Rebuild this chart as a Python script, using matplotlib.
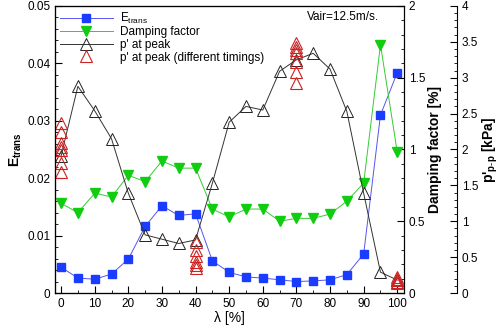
import matplotlib
matplotlib.use("Agg")
import matplotlib.pyplot as plt
from matplotlib.ticker import MultipleLocator, AutoMinorLocator

plt.rcParams['font.family'] = ['Liberation Sans', 'DejaVu Sans']
plt.rcParams['mathtext.fontset'] = 'custom'
plt.rcParams['mathtext.rm'] = 'Liberation Sans'
plt.rcParams['mathtext.it'] = 'Liberation Sans'
plt.rcParams['mathtext.bf'] = 'Liberation Sans:bold'

# lambda [%]
lam = [0, 5, 10, 15, 20, 25, 30, 35, 40, 45, 50, 55, 60, 65, 70, 75, 80, 85, 90, 95, 100]

e_trans = [0.0045, 0.0026, 0.0024, 0.0033, 0.0059, 0.0116, 0.0152, 0.0135, 0.0138, 0.0056,
           0.0036, 0.0028, 0.0026, 0.0023, 0.0020, 0.0021, 0.0023, 0.0032, 0.0068, 0.0310, 0.0384]

damping = [0.625, 0.56, 0.695, 0.67, 0.82, 0.776, 0.92, 0.87, 0.87, 0.585,
           0.53, 0.585, 0.585, 0.50, 0.52, 0.52, 0.55, 0.64, 0.765, 1.73, 0.98]

p_peak = [1.91, 2.88, 2.54, 2.15, 1.39, 0.81, 0.75, 0.69, 0.74, 1.53,
          2.38, 2.60, 2.55, 3.09, 3.25, 3.34, 3.12, 2.53, 1.39, 0.29, 0.18]

# p' at peak, different timings
red_lam = [0] * 7 + [40] * 6 + [70] * 7 + [100] * 5
red_p = [2.37, 2.24, 2.09, 2.03, 1.99, 1.81, 1.69,
         0.71, 0.60, 0.52, 0.43, 0.39, 0.35,
         3.48, 3.43, 3.39, 3.34, 3.22, 3.08, 2.93,
         0.14, 0.16, 0.18, 0.20, 0.22]

fig = plt.figure(figsize=(5.02, 3.31), dpi=100)
ax = fig.add_axes([0.1096, 0.1148, 0.6952, 0.8672])
ax2 = ax.twinx()
ax3 = ax.twinx()
ax3.spines['right'].set_position(('axes', 1.152))

l1, = ax.plot(lam, e_trans, '-s', color='#5555ee', lw=0.7, ms=6,
              mfc='#1a3cff', mec='#1a3cff', label='E$_{\\mathregular{trans}}$', zorder=3)
l2, = ax2.plot(lam, damping, '-v', color='#33cc33', lw=0.7, ms=7,
               mfc='#11cc11', mec='#11cc11', label='Damping factor')
l3, = ax3.plot(lam, p_peak, '-^', color='#333333', lw=0.7, ms=8,
               mfc='none', mec='#222222', mew=0.7, label="p' at peak")
l4, = ax3.plot(red_lam, red_p, '^', ls='none', ms=8, mfc='none',
               mec='#cc2222', mew=0.8, label="p' at peak (different timings)")

ax.set_xlim(-1.8, 102)
ax.set_ylim(0, 0.05)
ax2.set_ylim(0, 2)
ax3.set_ylim(0, 4)

ax.xaxis.set_major_locator(MultipleLocator(10))
ax.xaxis.set_minor_locator(MultipleLocator(5))
ax.yaxis.set_minor_locator(AutoMinorLocator(5))
ax2.yaxis.set_minor_locator(AutoMinorLocator(5))
ax3.yaxis.set_minor_locator(AutoMinorLocator(5))

for a in (ax, ax2, ax3):
    a.tick_params(which='major', length=5, direction='in', labelsize=8.5)
    a.tick_params(which='minor', length=2.5, direction='in')

ax.set_yticks([0, 0.01, 0.02, 0.03, 0.04, 0.05])
ax.set_yticklabels(['0', '0.01', '0.02', '0.03', '0.04', '0.05'])
ax2.set_yticks([0, 0.5, 1, 1.5, 2])
ax2.set_yticklabels(['0', '0.5', '1', '1.5', '2'])
ax3.set_yticks([0, 0.5, 1, 1.5, 2, 2.5, 3, 3.5, 4])
ax3.set_yticklabels(['0', '0.5', '1', '1.5', '2', '2.5', '3', '3.5', '4'])
ax.yaxis.set_minor_locator(AutoMinorLocator(5))
ax2.yaxis.set_minor_locator(AutoMinorLocator(5))
ax3.yaxis.set_minor_locator(AutoMinorLocator(5))

ax.set_xlabel('λ [%]', fontsize=10, labelpad=1)
ax.set_ylabel('E$_{\\mathregular{trans}}$', fontsize=10, fontweight='bold', labelpad=2)
ax2.set_ylabel('Damping factor [%]', fontsize=10, fontweight='bold', labelpad=2)
ax3.set_ylabel("p'$_{\\mathregular{p\\text{-}p}}$ [kPa]", fontsize=10, fontweight='bold', labelpad=2)

ax.text(0.722, 0.95, 'Vair=12.5m/s.', transform=ax.transAxes, fontsize=8.5)

ax.legend(handles=[l1, l2, l3, l4], loc='upper left', frameon=False, fontsize=8.5,
          handlelength=4.5, borderaxespad=0.0, labelspacing=0.05, handletextpad=0.6)

fig.savefig('out.png', dpi=100)
